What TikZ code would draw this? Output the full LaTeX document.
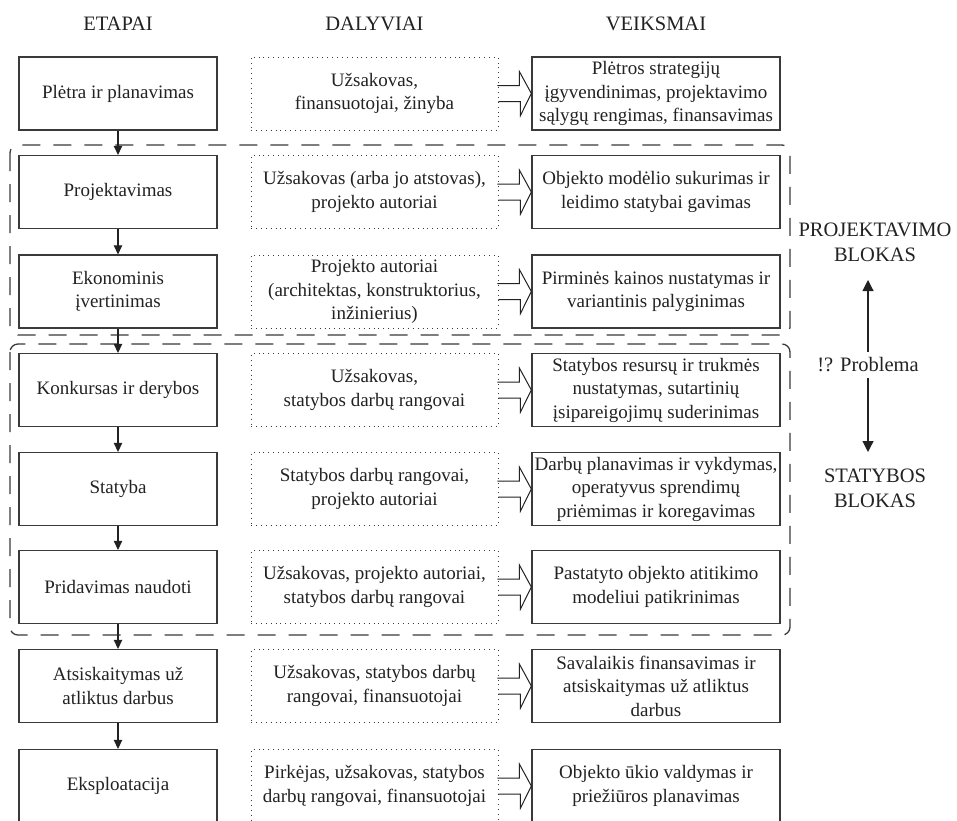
\documentclass[tikz,border=0pt]{standalone}
\usepackage{fontspec}
\setmainfont{Liberation Serif}
\usetikzlibrary{arrows.meta}
\definecolor{ink}{HTML}{222222}
\definecolor{edge}{HTML}{3A3A3A}
\begin{document}
\begin{tikzpicture}[x=1pt,y=-1pt,
  boxtext/.style={font=\fontsize{19}{23.5}\selectfont, align=center, inner sep=0pt, text=ink},
  stage/.style={boxtext, draw=edge, line width=1.3pt, minimum width=198pt, minimum height=73pt},
  party/.style={boxtext, draw=edge, line width=0.9pt, dash pattern=on 0.9pt off 4pt, minimum width=247pt, minimum height=73pt},
  action/.style={boxtext, draw=edge, line width=1.3pt, minimum width=248pt, minimum height=73pt},
  flow/.style={draw=ink, line width=1.1pt, -{Triangle[length=9pt,width=8.5pt]}},
  bigflow/.style={draw=ink, line width=1.1pt, -{Triangle[length=11pt,width=11pt]}},
  hollow/.style={draw=ink, line width=1pt, line join=miter},
  block/.style={draw=edge, line width=1.3pt, dash pattern=on 18pt off 13pt, rounded corners=8pt},
  label/.style={font=\fontsize{20.5}{25}\selectfont, align=center, inner sep=0pt, text=ink},
]
\useasboundingbox (0,0) rectangle (957,820);
\fill[white] (0,0) rectangle (957,820);

% headers
\node[label, anchor=base] (h1) at (118,30.5) {ETAPAI};
\node[label, anchor=base] (h2) at (374.5,30.5) {DALYVIAI};
\node[label, anchor=base] (h3) at (656,30.5) {VEIKSMAI};

% blocks
\draw[block] (10,145) rectangle (790,335);
\draw[block] (10,344) rectangle (790,635);

% row 1
\node[stage]  (s1) at (118,93.5)   {Plėtra ir planavimas};
\node[party]  (p1) at (374.5,93.5) {Užsakovas,\\ finansuotojai, žinyba};
\node[action] (a1) at (656,93.5)   {Plėtros strategijų\\ įgyvendinimas, projektavimo\\ sąlygų rengimas, finansavimas};
% row 2
\node[stage]  (s2) at (118,192)   {Projektavimas};
\node[party]  (p2) at (374.5,192) {Užsakovas (arba jo atstovas),\\ projekto autoriai};
\node[action] (a2) at (656,192)   {Objekto modėlio sukurimas ir\\ leidimo statybai gavimas};
% row 3
\node[stage]  (s3) at (118,291.5)   {Ekonominis\\ įvertinimas};
\node[party]  (p3) at (374.5,291.5) {Projekto autoriai\\ (architektas, konstruktorius,\\ inžinierius)};
\node[action] (a3) at (656,291.5)   {Pirminės kainos nustatymas ir\\ variantinis palyginimas};
% row 4
\node[stage]  (s4) at (118,390)   {Konkursas ir derybos};
\node[party]  (p4) at (374.5,390) {Užsakovas,\\ statybos darbų rangovai};
\node[action] (a4) at (656,390)   {Statybos resursų ir trukmės\\ nustatymas, sutartinių\\ įsipareigojimų suderinimas};
% row 5
\node[stage]  (s5) at (118,489)   {Statyba};
\node[party]  (p5) at (374.5,489) {Statybos darbų rangovai,\\ projekto autoriai};
\node[action] (a5) at (656,489)   {Darbų planavimas ir vykdymas,\\ operatyvus sprendimų\\ priėmimas ir koregavimas};
% row 6
\node[stage]  (s6) at (118,587)   {Pridavimas naudoti};
\node[party]  (p6) at (374.5,587) {Užsakovas, projekto autoriai,\\ statybos darbų rangovai};
\node[action] (a6) at (656,587)   {Pastatyto objekto atitikimo\\ modeliui patikrinimas};
% row 7
\node[stage]  (s7) at (118,686)   {Atsiskaitymas už\\ atliktus darbus};
\node[party]  (p7) at (374.5,686) {Užsakovas, statybos darbų\\ rangovai, finansuotojai};
\node[action] (a7) at (656,686)   {Savalaikis finansavimas ir\\ atsiskaitymas už atliktus\\ darbus};
% row 8
\node[stage]  (s8) at (118,786)   {Eksploatacija};
\node[party]  (p8) at (374.5,786) {Pirkėjas, užsakovas, statybos\\ darbų rangovai, finansuotojai};
\node[action] (a8) at (656,786)   {Objekto ūkio valdymas ir\\ priežiūros planavimas};

% stage flow
\foreach \i/\j in {1/2,2/3,3/4,4/5,5/6,6/7,7/8}
  \draw[flow] (s\i.south) -- (s\j.north);

% hollow arrows
\foreach \i in {1,...,8}
  \draw[hollow] ([yshift=-8pt]p\i.east) -- ++(22,0) -- ++(0,14) -- (a\i.west)
    -- ++(-12,-22) -- ++(0,14) -- ++(-22,0);

% right labels
\node[label] (proj) at (875,242) {PROJEKTAVIMO\\ BLOKAS};
\node[label] (stat) at (875,488.5) {STATYBOS\\ BLOKAS};
\node[label, inner ysep=6pt] (prob) at (868,365) {!? Problema};
\coordinate (ptop) at (868,280);
\coordinate (pbot) at (868,452);
\draw[bigflow] (prob.north) -- (ptop);
\draw[bigflow] (prob.south) -- (pbot);
\end{tikzpicture}
\end{document}
